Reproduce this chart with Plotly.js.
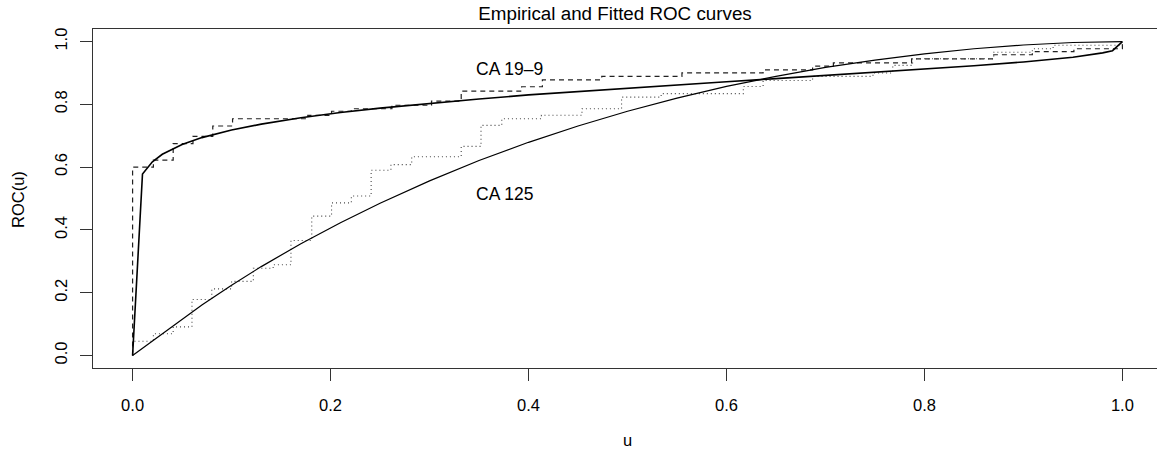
<!DOCTYPE html>
<html>
<head>
<meta charset="utf-8">
<script src="https://cdn.plot.ly/plotly-3.0.1.min.js"></script>
<style>
  html, body { margin: 0; padding: 0; overflow: hidden; background: #fff; }
  #chart { width: 1170px; height: 454px; }
</style>
</head>
<body>
<div id="chart"></div>
<script>
// Empirical ROC, CA 19-9 (dashed step curve)
const ca199EmpU   = [0, 0, 0.021, 0.041, 0.061, 0.081, 0.101, 0.177, 0.201, 0.221, 0.262, 0.302, 0.332, 0.393, 0.414, 0.474, 0.555, 0.637, 0.687, 0.708, 0.787, 0.870, 0.909, 0.951, 1.0];
const ca199EmpROC = [0, 0.600, 0.622, 0.675, 0.698, 0.731, 0.754, 0.765, 0.778, 0.786, 0.797, 0.810, 0.842, 0.856, 0.878, 0.889, 0.900, 0.910, 0.922, 0.932, 0.945, 0.958, 0.968, 0.977, 1.0];

// Empirical ROC, CA 125 (dotted step curve)
const ca125EmpU   = [0, 0, 0.021, 0.041, 0.060, 0.080, 0.100, 0.122, 0.142, 0.160, 0.181, 0.201, 0.221, 0.241, 0.261, 0.282, 0.332, 0.352, 0.373, 0.413, 0.454, 0.494, 0.534, 0.617, 0.637, 0.687, 0.748, 0.768, 0.788, 0.870, 0.909, 0.930, 1.0];
const ca125EmpROC = [0, 0.045, 0.069, 0.091, 0.178, 0.212, 0.236, 0.278, 0.289, 0.366, 0.444, 0.486, 0.508, 0.590, 0.608, 0.633, 0.666, 0.733, 0.754, 0.765, 0.786, 0.823, 0.834, 0.857, 0.876, 0.889, 0.900, 0.924, 0.945, 0.966, 0.977, 0.988, 1.0];

// Fitted ROC curves (solid)
const fitU      = [0, 0.01, 0.02, 0.03, 0.05, 0.07, 0.10, 0.13, 0.17, 0.21, 0.25, 0.30, 0.35, 0.40, 0.45, 0.50, 0.55, 0.60, 0.65, 0.70, 0.75, 0.80, 0.85, 0.90, 0.95, 0.98, 0.99, 1.0];
const ca199Fit  = [0, 0.578, 0.617, 0.641, 0.672, 0.694, 0.718, 0.737, 0.757, 0.774, 0.788, 0.803, 0.817, 0.830, 0.841, 0.852, 0.862, 0.872, 0.882, 0.892, 0.902, 0.912, 0.923, 0.935, 0.950, 0.964, 0.971, 1.0];
const ca125Fit  = [0, 0.023, 0.047, 0.070, 0.116, 0.161, 0.224, 0.283, 0.356, 0.423, 0.485, 0.556, 0.621, 0.679, 0.731, 0.778, 0.820, 0.857, 0.889, 0.918, 0.941, 0.961, 0.977, 0.989, 0.997, 0.999, 1.0, 1.0];

const tickVals   = [0, 0.2, 0.4, 0.6, 0.8, 1.0];
const tickLabels = ["0.0", "0.2", "0.4", "0.6", "0.8", "1.0"];

const labelNames = ["CA 19\u20139", "CA 125"];
const labelU     = [0.381, 0.376];
const labelROC   = [0.914, 0.514];

const FONT = "Liberation Sans, Arial, Helvetica, sans-serif";

const traces = [
  { x: ca199EmpU, y: ca199EmpROC, mode: "lines", line: { shape: "hv", color: "#222", width: 1.2, dash: "5px,4px" } },
  { x: ca125EmpU, y: ca125EmpROC, mode: "lines", line: { shape: "hv", color: "#444", width: 1.1, dash: "1px,3px" } },
  { x: fitU, y: ca199Fit, mode: "lines", line: { color: "#000", width: 1.6 } },
  { x: fitU, y: ca125Fit, mode: "lines", line: { color: "#000", width: 1.2 } }
];

const W = 1170, H = 454;
const mL = 93, mR = 8, mT = 29, mB = 86;
const plotW = W - mL - mR, plotH = H - mT - mB;

const annotations = labelNames.map((t, i) => ({
  x: labelU[i], y: labelROC[i], xref: "x", yref: "y",
  text: t, showarrow: false, xanchor: "center", yanchor: "middle",
  font: { family: FONT, size: 17.5, color: "#000" }
}));
annotations.push({
  text: "ROC(u)", xref: "paper", yref: "paper",
  x: (18 - mL) / plotW, y: 1 - (200 - mT) / plotH,
  xanchor: "center", yanchor: "middle", textangle: -90, showarrow: false,
  font: { family: FONT, size: 16.5, color: "#000" }
});

const layout = {
  width: W, height: H,
  margin: { l: mL, r: mR, t: mT, b: mB, pad: 0 },
  paper_bgcolor: "#fff", plot_bgcolor: "#fff",
  showlegend: false,
  font: { family: FONT, color: "#000", size: 16 },
  title: {
    text: "Empirical and Fitted ROC curves",
    font: { family: FONT, size: 18.8, color: "#000" },
    xref: "paper", x: (615 - mL) / plotW, xanchor: "center",
    yref: "container", y: 1 - 13 / H, yanchor: "middle"
  },
  xaxis: {
    range: [-0.04, 1.04], showgrid: false, zeroline: false,
    showline: true, mirror: true, linecolor: "#333", linewidth: 1,
    ticks: "outside", ticklen: 12, tickwidth: 1, tickcolor: "#333",
    tickmode: "array", tickvals: tickVals, ticktext: tickLabels,
    ticklabelstandoff: 10,
    tickfont: { family: FONT, size: 16.5, color: "#000" },
    title: { text: "u", font: { family: FONT, size: 16.5, color: "#000" }, standoff: 21 }
  },
  yaxis: {
    range: [-0.04, 1.04], showgrid: false, zeroline: false,
    showline: true, mirror: true, linecolor: "#333", linewidth: 1,
    ticks: "outside", ticklen: 12, tickwidth: 1, tickcolor: "#333",
    tickmode: "array", tickvals: tickVals, ticktext: tickLabels,
    tickangle: -90, ticklabelstandoff: 6,
    tickfont: { family: FONT, size: 16.5, color: "#000" }
  },
  annotations: annotations
};

Plotly.newPlot("chart", traces, layout, { staticPlot: true, displayModeBar: false });
</script>
</body>
</html>
